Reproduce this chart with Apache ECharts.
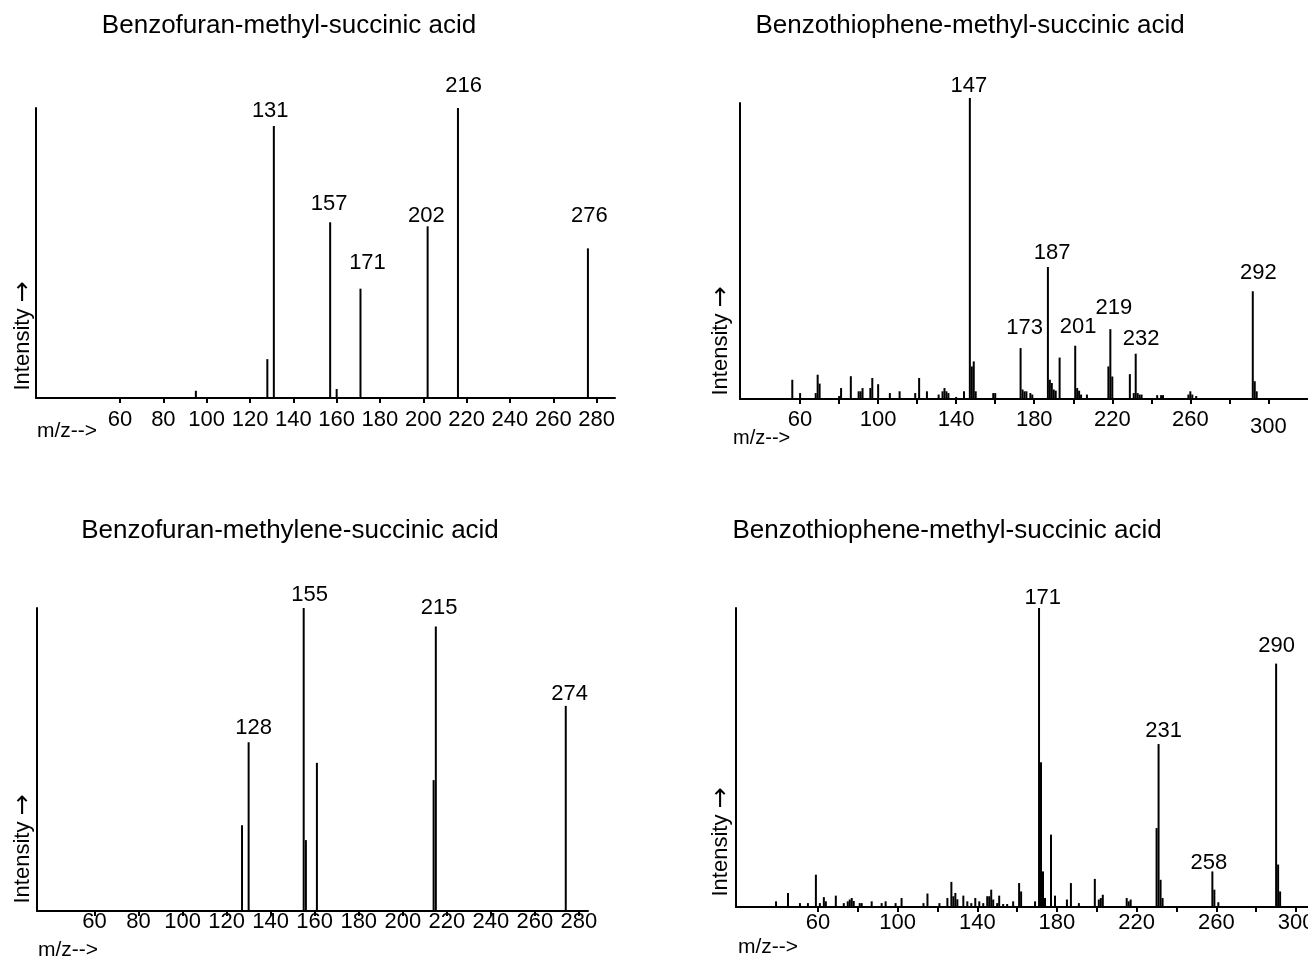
<!DOCTYPE html>
<html>
<head>
<meta charset="utf-8">
<title>Mass spectra</title>
<script src="https://cdn.jsdelivr.net/npm/echarts@6/dist/echarts.min.js"></script>
<style>
  html, body { margin: 0; padding: 0; background: #fff; }
  #main { width: 1308px; height: 963px; }
</style>
</head>
<body>
<div id="main"></div>
<script>
// peaks: [m/z, relative intensity %]
var peaksBfMethyl = [[95, 2.5], [128, 13.4], [131, 93.8], [157, 60.6], [160, 3.1], [171, 37.7],
  [202, 59.2], [216, 100], [276, 51.6]];
var labelsBfMethyl = [[131, '131'], [157, '157'], [171, '171'], [202, '202'], [216, '216'], [276, '276']];

var peaksBtMethyl = [[56, 6.5], [60, 2], [68, 2], [69, 8.2], [70, 5.2], [80, 1], [81, 3.7], [86, 7.7],
  [90, 2.6], [91, 2.6], [92, 3.7], [96, 3.7], [97, 7.1], [100, 5], [106, 2], [111, 2.6], [119, 2],
  [121, 7.1], [125, 2.6], [131, 1.5], [133, 2.6], [134, 3.7], [135, 2.6], [136, 2], [140, 0.7],
  [144, 2.6], [147, 101.7], [148, 11], [149, 12.7], [150, 2.6], [159, 2], [160, 2],
  [173, 17.2], [174, 3.2], [175, 2.6], [176, 2.6], [178, 2], [179, 1.5], [187, 44.6], [188, 6.5],
  [189, 5.4], [190, 3.2], [191, 2.8], [193, 14], [201, 18], [202, 3.7], [203, 2.8], [204, 1.5],
  [207, 1.5], [218, 11], [219, 23.6], [220, 7.6], [229, 8.4], [231, 2], [232, 15.3], [233, 2],
  [234, 1.5], [235, 1.5], [243, 1.3], [245, 1.3], [246, 1.3], [259, 1.5], [260, 2.6], [261, 1.5],
  [263, 1], [292, 36.4], [293, 6], [294, 2.6]];
var labelsBtMethyl = [[147, '147'], [173, '173'], [187, '187'], [201, '201'], [219, '219'], [232, '232'], [292, '292']];

var peaksBfMethylene = [[127, 28.3], [130, 55.7], [155, 100], [156, 23.4], [161, 48.9], [214, 43.2],
  [215, 93.9], [274, 67.7]];
var labelsBfMethylene = [[130, '128'], [155, '155'], [215, '215'], [274, '274']];

var peaksBtMethyl2 = [[39, 1.9], [45, 4.7], [51, 1.3], [55, 1.3], [59, 10.8], [61, 1.3], [63, 3.3],
  [64, 1.9], [69, 3.8], [73, 1.3], [75, 1.9], [76, 2.5], [77, 3], [78, 2], [81, 1.3], [82, 1.3],
  [87, 1.9], [92, 1.3], [94, 1.9], [99, 1.3], [102, 3], [113, 1.3], [115, 4.5], [121, 1.3], [125, 3],
  [127, 8.4], [128, 3.6], [129, 4.7], [130, 2.6], [133, 3.8], [135, 1.9], [137, 1.3], [139, 3],
  [141, 1.9], [143, 1.3], [145, 3.6], [146, 3.6], [147, 5.8], [148, 2.5], [150, 1.3], [151, 3.8],
  [153, 1], [155, 1], [158, 1.9], [161, 8], [162, 5.2], [169, 1.9], [171, 100], [172, 48.4],
  [173, 11.9], [174, 3], [177, 24.2], [179, 3.8], [185, 2.5], [187, 8], [191, 1.3], [199, 9.4],
  [201, 2.5], [202, 3], [203, 4.1], [215, 3], [216, 1.9], [217, 2.5], [230, 26.4], [231, 54.5],
  [232, 9.1], [233, 3], [258, 11.9], [259, 5.8], [261, 1.6], [290, 81.4], [291, 14.2], [292, 5.2]];
var labelsBtMethyl2 = [[171, '171'], [231, '231'], [258, '258'], [290, '290']];

var ticksA = [60, 80, 100, 120, 140, 160, 180, 200, 220, 240, 260, 280];
var tickLabelsA = [60, 80, 100, 120, 140, 160, 180, 200, 220, 240, 260, 280];
var ticksB = [60, 80, 100, 120, 140, 160, 180, 200, 220, 240, 260, 280, 300];
var tickLabelsB = [60, 100, 140, 180, 220, 260, 300];

var titles = ['Benzofuran-methyl-succinic acid', 'Benzothiophene-methyl-succinic acid',
  'Benzofuran-methylene-succinic acid', 'Benzothiophene-methyl-succinic acid'];

var FONT = '"Liberation Sans", Arial, sans-serif';

// label nudges [dx, gap above peak] per panel, keyed by label text
var nudges = [
  { '131': [-3.6, 7.4], '157': [-1, 10.6], '171': [7, 18.7], '202': [-1.3, 3], '216': [5.6, 14.4], '276': [1.5, 25] },
  { '147': [-1, 5], '173': [4, 13], '187': [4.3, 7], '201': [3, 11], '219': [3.5, 14], '232': [5.5, 7], '292': [5.6, 11] },
  { '128': [5, 7], '155': [6, 6], '215': [3.3, 11.7], '274': [3.8, 4.3] },
  { '171': [3.7, 2.7], '231': [5, 6], '258': [-3.4, 1], '290': [0.5, 10.7] }
];

var panels = [
  { peaks: peaksBfMethyl, labels: labelsBfMethyl, grid: { left: 36, top: 108, width: 579, height: 290 },
    min: 21.2, max: 288.5, ticks: ticksA, tickLabels: tickLabelsA, margin: 11 },
  { peaks: peaksBtMethyl, labels: labelsBtMethyl, grid: { left: 740, top: 103, width: 568, height: 296 },
    min: 29.2, max: 320.3, ticks: ticksB, tickLabels: tickLabelsB, margin: 10, low300: true },
  { peaks: peaksBfMethylene, labels: labelsBfMethylene, grid: { left: 37, top: 608, width: 551, height: 303 },
    min: 33.9, max: 284.1, ticks: ticksA, tickLabels: tickLabelsA, margin: 0 },
  { peaks: peaksBtMethyl2, labels: labelsBtMethyl2, grid: { left: 736, top: 608, width: 572, height: 299 },
    min: 18.9, max: 306, ticks: ticksB, tickLabels: tickLabelsB, margin: 5 }
];

function stick(params, api) {
  var p0 = api.coord([api.value(0), 0]);
  var p1 = api.coord([api.value(0), api.value(1)]);
  return {
    type: 'line',
    shape: { x1: p0[0], y1: p0[1], x2: p1[0], y2: p1[1] },
    style: { stroke: '#000', lineWidth: 2 }
  };
}

function txt(text, x, y, size, align, rot) {
  return {
    type: 'text', x: x, y: y, rotation: rot || 0, silent: true,
    style: {
      text: text, fontSize: size, fontFamily: FONT, fill: '#000',
      align: align, verticalAlign: 'middle', textAlign: align, textVerticalAlign: 'middle',
      rich: {
        arr: { fontSize: 25, fontFamily: '"DejaVu Sans", sans-serif', fill: '#000', color: '#000' }
      }
    }
  };
}

var grids = [], xAxes = [], yAxes = [], series = [];

panels.forEach(function (p, i) {
  grids.push(Object.assign({ outerBoundsMode: 'none', containLabel: false }, p.grid));
  xAxes.push({
    type: 'value', gridIndex: i, min: p.min, max: p.max,
    axisLine: { onZero: false, lineStyle: { color: '#000', width: 2 } },
    axisTick: { customValues: p.ticks, length: 5, lineStyle: { color: '#000', width: 2 } },
    axisLabel: {
      customValues: p.tickLabels, margin: p.margin, color: '#000', fontSize: 22, fontFamily: FONT,
      hideOverlap: false,
      formatter: function (v) { return (p.low300 && v === 300) ? '{low|300}' : String(v); },
      rich: { low: { padding: [7, 0, 0, 0], fontSize: 22, fontFamily: FONT, color: '#000' } }
    },
    splitLine: { show: false }
  });
  yAxes.push({
    type: 'value', gridIndex: i, min: 0, max: 100,
    axisLine: { show: true, lineStyle: { color: '#000', width: 2 } },
    axisTick: { show: false }, axisLabel: { show: false }, splitLine: { show: false }
  });
  series.push({
    type: 'custom', xAxisIndex: i, yAxisIndex: i, renderItem: stick,
    encode: { x: 0, y: 1 }, data: p.peaks, silent: true, clip: false
  });
  var lookup = {};
  p.peaks.forEach(function (d) { lookup[d[0]] = d[1]; });
  series.push({
    type: 'scatter', xAxisIndex: i, yAxisIndex: i, symbolSize: 0, silent: true, clip: false,
    itemStyle: { opacity: 1, color: '#000' },
    data: p.labels.map(function (l) {
      var n = nudges[i][l[1]] || [0, 6];
      return {
        value: [l[0], lookup[l[0]]],
        label: {
          show: true, position: 'top', distance: 0, formatter: l[1],
          offset: [n[0], 3.7 - n[1]],
          fontSize: 22, fontFamily: FONT, color: '#000'
        }
      };
    })
  });
});

var yLabel = 'Intensity {arr|\u2192}';
var graphics = [
  txt(titles[0], 289, 26, 26, 'center'),
  txt(titles[1], 970, 26, 26, 'center'),
  txt(titles[2], 290, 531, 26, 'center'),
  txt(titles[3], 947, 531, 26, 'center'),
  txt(yLabel, 23, 336, 22, 'center', Math.PI / 2),
  txt(yLabel, 721, 341, 22, 'center', Math.PI / 2),
  txt(yLabel, 23, 849, 22, 'center', Math.PI / 2),
  txt(yLabel, 721, 842, 22, 'center', Math.PI / 2),
  txt('m/z-->', 37, 431, 21, 'left'),
  txt('m/z-->', 733, 438, 20, 'left'),
  txt('m/z-->', 38, 950, 21, 'left'),
  txt('m/z-->', 738, 947, 21, 'left')
];

var chart = echarts.init(document.getElementById('main'));
chart.setOption({
  animation: false,
  backgroundColor: '#fff',
  grid: grids,
  xAxis: xAxes,
  yAxis: yAxes,
  series: series,
  graphic: graphics
});
</script>
</body>
</html>
